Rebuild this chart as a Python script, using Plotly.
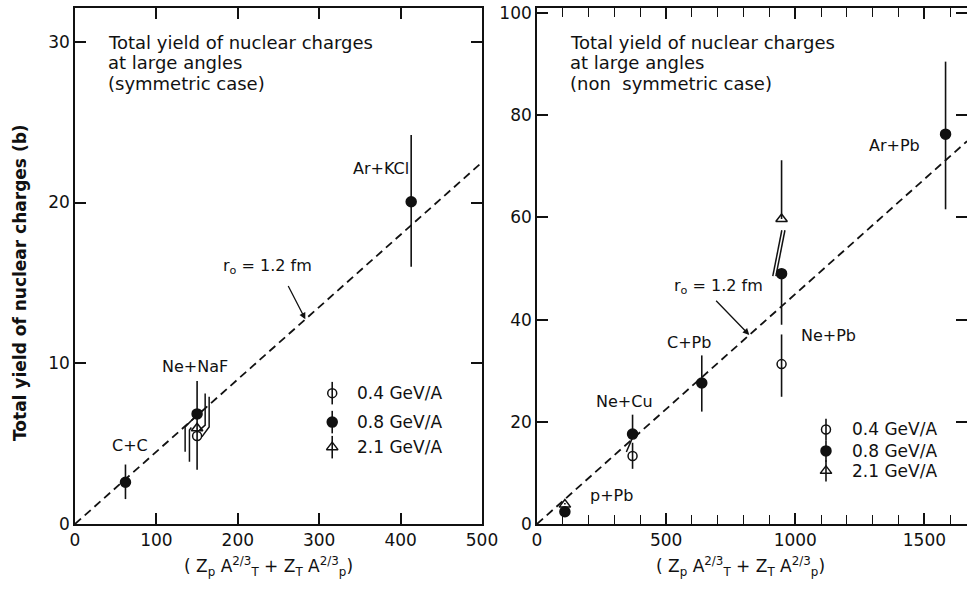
import plotly.graph_objects as go

# ---------------- data: left panel (symmetric case) ----------------
L_x_04 = [150]
L_y_04 = [5.47]
L_up_04 = [0.5]
L_dn_04 = [2.1]

L_x_08 = [62, 150, 413]
L_y_08 = [2.6, 6.85, 20.05]
L_up_08 = [1.1, 2.05, 4.15]
L_dn_08 = [1.05, 0.9, 4.05]

L_x_21 = [150]
L_y_21 = [5.96]
L_up_21 = [0.0]
L_dn_21 = [0.0]

L_labels = ["C+C", "Ne+NaF", "Ar+KCl"]
L_label_x = [68, 148, 376]
L_label_y = [4.9, 9.8, 22.1]

# offset (displaced) error bars drawn as bent lines
L_hooks = [
    ([145.5, 135.3, 135.3], [6.56, 6.04, 4.49]),
    ([143.0, 140.6, 140.6], [6.0, 5.84, 3.87]),
    ([159.9, 159.9, 152.9], [8.12, 6.15, 5.84]),
    ([164.8, 164.8, 155.8], [7.91, 6.04, 5.42]),
]

# ---------------- data: right panel (non symmetric case) ----------------
R_x_04 = [370, 947]
R_y_04 = [13.3, 31.3]
R_up_04 = [2.6, 5.8]
R_dn_04 = [2.5, 6.4]

R_x_08 = [108, 370, 638, 947, 1582]
R_y_08 = [2.4, 17.6, 27.6, 49.0, 76.3]
R_up_08 = [0.4, 3.8, 5.4, 0.0, 14.2]
R_dn_08 = [0.4, 0.0, 5.6, 10.0, 14.7]

R_x_21 = [108, 947]
R_y_21 = [3.8, 59.7]
R_up_21 = [0.3, 11.5]
R_dn_21 = [0.0, 0.0]

R_labels = ["p+Pb", "Ne+Cu", "C+Pb", "Ne+Pb", "Ar+Pb"]
R_label_x = [288, 338, 588, 1127, 1385]
R_label_y = [5.6, 23.9, 35.5, 36.9, 74.1]

R_hooks = [
    ([369, 346], [16.8, 14.1]),
    ([960, 925], [57.5, 48.5]),
    ([948, 913], [57.5, 48.5]),
]

# r0 = 1.2 fm geometric line: sigma = pi r0^2 * x  (b)
slope = 0.045
L_line_x = [0, 500]
R_line_x = [0, 1665]

energies = ["0.4 GeV/A", "0.8 GeV/A", "2.1 GeV/A"]
L_leg_x, L_leg_y, L_leg_err, L_leg_tx = 316, [8.14, 6.34, 4.78], 0.7, 344
R_leg_x, R_leg_y, R_leg_err, R_leg_tx = 1119, [18.5, 14.3, 10.4], 2.1, 1212

L_title = ["Total yield of nuclear charges", "at large angles", "(symmetric case)"]
R_title = ["Total yield of nuclear charges", "at large angles", "(non  symmetric case)"]

FONT = "DejaVu Sans"
BLACK = "#111111"
TS = 16  # label text size
symbols = ["circle-open", "circle", "triangle-up-open"]
msizes = [9, 10, 10]

fig = go.Figure()


def add_points(xs, ys, up, dn, sym, size, xa, ya):
    fig.add_trace(go.Scatter(
        x=xs, y=ys, mode="markers", xaxis=xa, yaxis=ya,
        marker=dict(symbol=sym, size=size, color=BLACK,
                    line=dict(color=BLACK, width=1.5)),
        error_y=dict(type="data", array=up, arrayminus=dn, symmetric=False,
                     color=BLACK, thickness=1.6, width=0),
        showlegend=False, hoverinfo="skip"))


# dashed lines
fig.add_trace(go.Scatter(x=L_line_x, y=[slope * v for v in L_line_x], mode="lines",
                         line=dict(color=BLACK, width=1.8, dash="8px,5px"),
                         xaxis="x", yaxis="y", showlegend=False, hoverinfo="skip"))
fig.add_trace(go.Scatter(x=R_line_x, y=[slope * v for v in R_line_x], mode="lines",
                         line=dict(color=BLACK, width=1.8, dash="8px,5px"),
                         xaxis="x2", yaxis="y2", showlegend=False, hoverinfo="skip"))

for hx, hy in L_hooks:
    fig.add_trace(go.Scatter(x=hx, y=hy, mode="lines", line=dict(color=BLACK, width=1.5),
                             xaxis="x", yaxis="y", showlegend=False, hoverinfo="skip"))
for hx, hy in R_hooks:
    fig.add_trace(go.Scatter(x=hx, y=hy, mode="lines", line=dict(color=BLACK, width=1.5),
                             xaxis="x2", yaxis="y2", showlegend=False, hoverinfo="skip"))

add_points(L_x_08, L_y_08, L_up_08, L_dn_08, symbols[1], msizes[1], "x", "y")
add_points(L_x_21, L_y_21, L_up_21, L_dn_21, symbols[2], msizes[2], "x", "y")
add_points(L_x_04, L_y_04, L_up_04, L_dn_04, symbols[0], msizes[0], "x", "y")

add_points(R_x_08, R_y_08, R_up_08, R_dn_08, symbols[1], msizes[1], "x2", "y2")
add_points(R_x_21, R_y_21, R_up_21, R_dn_21, symbols[2], msizes[2], "x2", "y2")
add_points(R_x_04, R_y_04, R_up_04, R_dn_04, symbols[0], msizes[0], "x2", "y2")

# legends drawn in the plot
for i in range(3):
    add_points([L_leg_x], [L_leg_y[i]], [L_leg_err], [L_leg_err], symbols[i], msizes[i], "x", "y")
    add_points([R_leg_x], [R_leg_y[i]], [R_leg_err], [R_leg_err], symbols[i], msizes[i], "x2", "y2")

ann = []
for t, x, y in zip(L_labels, L_label_x, L_label_y):
    ann.append(dict(text=t, x=x, y=y, xref="x", yref="y", showarrow=False,
                    font=dict(size=TS, color=BLACK)))
for t, x, y in zip(R_labels, R_label_x, R_label_y):
    ann.append(dict(text=t, x=x, y=y, xref="x2", yref="y2", showarrow=False,
                    font=dict(size=TS, color=BLACK)))
for i in range(3):
    ann.append(dict(text=energies[i], x=L_leg_tx, y=L_leg_y[i], xref="x", yref="y",
                    xanchor="left", showarrow=False, font=dict(size=17, color=BLACK)))
    ann.append(dict(text=energies[i], x=R_leg_tx, y=R_leg_y[i], xref="x2", yref="y2",
                    xanchor="left", showarrow=False, font=dict(size=17, color=BLACK)))

# r0 labels and arrows
ann.append(dict(text="r<sub>o</sub> = 1.2 fm", x=237, y=16.0, xref="x", yref="y",
                showarrow=False, font=dict(size=TS, color=BLACK)))
ann.append(dict(text="", x=283, y=slope * 283, xref="x", yref="y", axref="x", ayref="y",
                ax=261, ay=14.9, showarrow=True, arrowhead=2, arrowsize=1, arrowwidth=1.3,
                arrowcolor=BLACK))
ann.append(dict(text="r<sub>o</sub> = 1.2 fm", x=704, y=46.5, xref="x2", yref="y2",
                showarrow=False, font=dict(size=TS, color=BLACK)))
ann.append(dict(text="", x=822, y=slope * 822, xref="x2", yref="y2", axref="x2", ayref="y2",
                ax=688, ay=44.0, showarrow=True, arrowhead=2, arrowsize=1, arrowwidth=1.3,
                arrowcolor=BLACK))

# panel titles (one annotation per line to control spacing)
for k in range(3):
    ypx = 42 + 20.7 * k
    ann.append(dict(text=L_title[k], x=106 / 967, y=1 - ypx / 607, xref="paper", yref="paper",
                    xanchor="left", yanchor="middle", showarrow=False,
                    font=dict(size=18, color=BLACK)))
    ann.append(dict(text=R_title[k], x=568 / 967, y=1 - ypx / 607, xref="paper", yref="paper",
                    xanchor="left", yanchor="middle", showarrow=False,
                    font=dict(size=18, color=BLACK)))

# axis titles
xt = "( Z<sub>p</sub> A<sup>2/3</sup><sub>T</sub> + Z<sub>T</sub> A<sup>2/3</sup><sub>p</sub>)"
ann.append(dict(text=xt, x=268 / 967, y=1 - 566 / 607, xref="paper", yref="paper",
                xanchor="center", yanchor="middle", showarrow=False,
                font=dict(size=17, color=BLACK)))
ann.append(dict(text=xt, x=740 / 967, y=1 - 566 / 607, xref="paper", yref="paper",
                xanchor="center", yanchor="middle", showarrow=False,
                font=dict(size=17, color=BLACK)))
ann.append(dict(text="Total yield of nuclear charges (b)", x=20 / 967, y=1 - 283 / 607,
                xref="paper", yref="paper", xanchor="center", yanchor="middle",
                textangle=-90, showarrow=False,
                font=dict(size=17, color=BLACK, weight=600)))

axis_common = dict(showline=True, linecolor=BLACK, linewidth=1.6, mirror="ticks",
                   ticks="inside", tickcolor=BLACK, tickwidth=1.5, ticklen=11,
                   showgrid=False, zeroline=False, automargin=False,
                   tickfont=dict(size=17, color=BLACK, family=FONT))

fig.update_layout(
    width=967, height=607, margin=dict(l=0, r=0, t=0, b=0, pad=0, autoexpand=False),
    paper_bgcolor="white", plot_bgcolor="white",
    font=dict(family=FONT, color=BLACK),
    showlegend=False,
    xaxis=dict(domain=[75 / 967, 482 / 967], range=[0, 500], dtick=100, anchor="y",
               **axis_common),
    yaxis=dict(domain=[(607 - 524) / 607, (607 - 8) / 607], range=[0, 32.1], dtick=10,
               anchor="x", **axis_common),
    xaxis2=dict(domain=[537 / 967, 1.0], range=[0, 1665], dtick=500, anchor="y2",
                minor=dict(dtick=100, ticks="inside", ticklen=9, tickcolor=BLACK, tickwidth=1.4),
                **axis_common),
    yaxis2=dict(domain=[(607 - 524) / 607, (607 - 8) / 607], range=[0, 101], dtick=20,
                anchor="x2", **axis_common),
    annotations=ann,
)

fig.write_html("out.html")
